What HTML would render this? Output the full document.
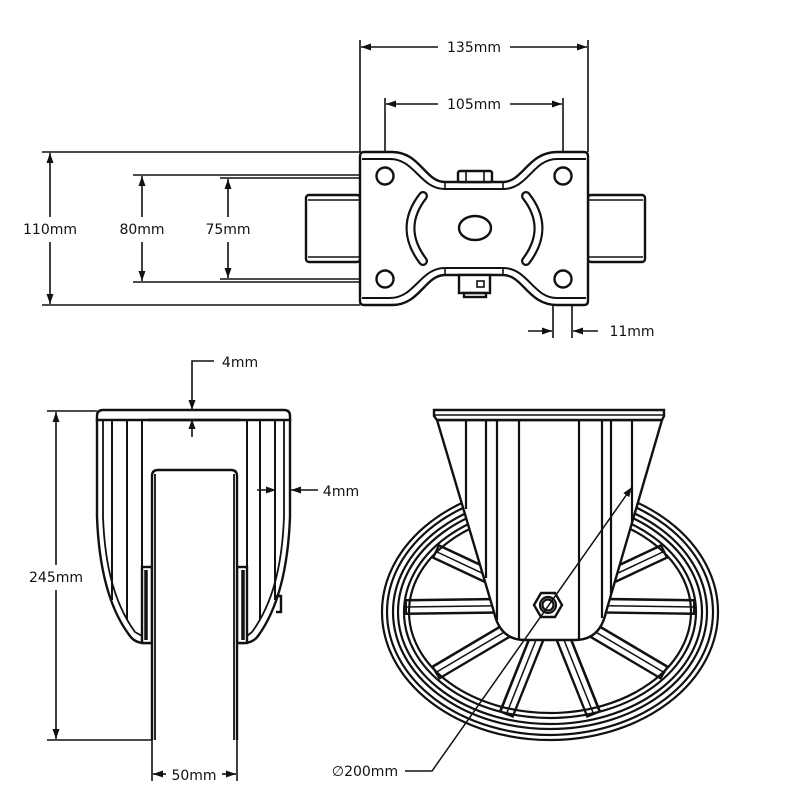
<!DOCTYPE html>
<html><head><meta charset="utf-8"><style>
html,body{margin:0;padding:0;background:#fff;}
svg{display:block;}
text{font-family:"DejaVu Sans","Liberation Sans",sans-serif;font-size:14px;fill:#111;}
</style></head><body>
<svg width="800" height="800" viewBox="0 0 800 800" xmlns="http://www.w3.org/2000/svg">
<defs>
<marker id="a" viewBox="0 0 10 10" refX="10" refY="5" markerWidth="10" markerHeight="10" markerUnits="userSpaceOnUse" orient="auto-start-reverse"><path d="M0,1.5 L10,5 L0,8.5 Z" fill="#111"/></marker>
</defs>
<g stroke="#111" fill="none" stroke-width="1.6">
<line x1="360" y1="40" x2="360" y2="152"/>
<line x1="588" y1="40" x2="588" y2="152"/>
<line x1="361" y1="47" x2="438" y2="47" marker-start="url(#a)"/>
<line x1="510" y1="47" x2="587" y2="47" marker-end="url(#a)"/>
<line x1="385" y1="98" x2="385" y2="168"/>
<line x1="563" y1="98" x2="563" y2="168"/>
<line x1="386" y1="104" x2="438" y2="104" marker-start="url(#a)"/>
<line x1="510" y1="104" x2="562" y2="104" marker-end="url(#a)"/>
<line x1="42" y1="152" x2="360" y2="152"/>
<line x1="42" y1="305" x2="360" y2="305"/>
<line x1="50" y1="153" x2="50" y2="217" marker-start="url(#a)"/>
<line x1="50" y1="242" x2="50" y2="304" marker-end="url(#a)"/>
<line x1="133" y1="175" x2="377" y2="175"/>
<line x1="133" y1="282" x2="377" y2="282"/>
<line x1="142" y1="176" x2="142" y2="217" marker-start="url(#a)"/>
<line x1="142" y1="242" x2="142" y2="281" marker-end="url(#a)"/>
<line x1="220" y1="178" x2="377" y2="178"/>
<line x1="220" y1="279" x2="377" y2="279"/>
<line x1="228" y1="179" x2="228" y2="217" marker-start="url(#a)"/>
<line x1="228" y1="242" x2="228" y2="278" marker-end="url(#a)"/>
<line x1="553" y1="285" x2="553" y2="338"/>
<line x1="572" y1="285" x2="572" y2="338"/>
<line x1="528" y1="331" x2="552" y2="331" marker-end="url(#a)"/>
<line x1="598" y1="331" x2="573" y2="331" marker-end="url(#a)"/>
</g>
<g stroke="#111" fill="none" stroke-width="2.4">
<rect x="306" y="195" width="54" height="67" rx="3"/>
<line x1="308" y1="200" x2="360" y2="200" stroke-width="1.6"/>
<line x1="308" y1="257" x2="360" y2="257" stroke-width="1.6"/>
<rect x="588" y="195" width="57" height="67" rx="3"/>
<line x1="588" y1="200" x2="643" y2="200" stroke-width="1.6"/>
<line x1="588" y1="257" x2="643" y2="257" stroke-width="1.6"/>
<path d="M360,156 Q360,152 364,152 L392,152 C420,152 425,182 445,182 L503,182 C523,182 528,152 557,152 L584,152 Q588,152 588,156 L588,301 Q588,305 584,305 L557,305 C528,305 523,275 503,275 L445,275 C425,275 420,305 392,305 L364,305 Q360,305 360,301 Z" fill="#fff"/>
<path d="M362,159 L390,159 C415,159 420,189 445,189 L503,189 C528,189 533,159 557,159 L586,159" stroke-width="2"/>
<path d="M362,298 L390,298 C415,298 420,268 445,268 L503,268 C528,268 533,298 557,298 L586,298" stroke-width="2"/>
<line x1="445" y1="182" x2="445" y2="189" stroke-width="1.6"/>
<line x1="503" y1="182" x2="503" y2="189" stroke-width="1.6"/>
<line x1="445" y1="268" x2="445" y2="275" stroke-width="1.6"/>
<line x1="503" y1="268" x2="503" y2="275" stroke-width="1.6"/>
<rect x="458" y="171" width="34" height="11" rx="2" fill="#fff"/>
<line x1="466" y1="171" x2="466" y2="182" stroke-width="1.6"/>
<line x1="484" y1="171" x2="484" y2="182" stroke-width="1.6"/>
<rect x="459" y="275" width="31" height="18" fill="#fff"/>
<rect x="464" y="293" width="22" height="4"/>
<rect x="477" y="281" width="7" height="6" stroke-width="1.6"/>
<circle cx="385" cy="176" r="8.5" fill="#fff"/>
<circle cx="563" cy="176" r="8.5" fill="#fff"/>
<circle cx="385" cy="279" r="8.5" fill="#fff"/>
<circle cx="563" cy="279" r="8.5" fill="#fff"/>
<ellipse cx="475" cy="228" rx="16" ry="12"/>
<path d="M423,196 Q398,228 423,261" stroke-width="10" stroke-linecap="round"/>
<path d="M423,196 Q398,228 423,261" stroke-width="5.5" stroke="#fff" stroke-linecap="round"/>
<path d="M526,196 Q551,228 526,261" stroke-width="10" stroke-linecap="round"/>
<path d="M526,196 Q551,228 526,261" stroke-width="5.5" stroke="#fff" stroke-linecap="round"/>
</g>

<g stroke="#111" fill="none" stroke-width="1.6">
<line x1="47" y1="411" x2="97" y2="411"/>
<line x1="47" y1="740" x2="152" y2="740"/>
<line x1="56" y1="412" x2="56" y2="565" marker-start="url(#a)"/>
<line x1="56" y1="590" x2="56" y2="739" marker-end="url(#a)"/>
<line x1="152" y1="740" x2="152" y2="781"/>
<line x1="237" y1="740" x2="237" y2="781"/>
<line x1="153" y1="774" x2="166" y2="774" marker-start="url(#a)"/>
<line x1="222" y1="774" x2="236" y2="774" marker-end="url(#a)"/>
<polyline points="214,361 192,361 192,410" marker-end="url(#a)"/>
<line x1="192" y1="437" x2="192" y2="419" marker-end="url(#a)"/>
<line x1="257" y1="490" x2="276" y2="490" marker-end="url(#a)"/>
<line x1="318" y1="490" x2="291" y2="490" marker-end="url(#a)"/>
</g>
<g stroke="#111" fill="none" stroke-width="2.4">
<path d="M97,418 L97,517 C99,570 110,610 130,636 Q135,643 145,643 L152,643 M290,418 L290,517 C288,570 277,610 258,636 Q253,643 243,643 L237,643"/>
<path d="M103,420 L103,517 C105,570 116,606 135,632 L142,636 M284,420 L284,517 C282,570 271,606 252,632 L247,636" stroke-width="1.8"/>
<path d="M97,416 Q97,410 103,410 L284,410 Q290,410 290,416 L290,420 L97,420 Z" fill="#fff"/>
<line x1="148" y1="420" x2="240" y2="420"/>
<line x1="112" y1="420" x2="112" y2="600" stroke-width="2"/>
<line x1="127" y1="420" x2="127" y2="620" stroke-width="2"/>
<line x1="142" y1="420" x2="142" y2="567" stroke-width="2"/>
<line x1="247" y1="420" x2="247" y2="567" stroke-width="2"/>
<line x1="260" y1="420" x2="260" y2="620" stroke-width="2"/>
<line x1="275" y1="420" x2="275" y2="600" stroke-width="2"/>
<rect x="142" y="567" width="10" height="76" fill="#fff"/>
<rect x="237" y="567" width="10" height="76" fill="#fff"/>
<line x1="146" y1="570" x2="146" y2="640" stroke-width="3.5"/>
<line x1="243" y1="570" x2="243" y2="640" stroke-width="3.5"/>
<path d="M276,596 L281,596 L281,612 L276,612"/>
<path d="M152,740 L152,476 Q152,470 158,470 L231,470 Q237,470 237,476 L237,740" fill="#fff"/>
<line x1="155" y1="474" x2="155" y2="740" stroke-width="1.8"/>
<line x1="234" y1="474" x2="234" y2="740" stroke-width="1.8"/>
</g>

<g stroke="#111" fill="none" stroke-width="2.2">
<ellipse cx="550" cy="612" rx="168" ry="128"/>
<ellipse cx="550" cy="612" rx="163" ry="123"/>
<ellipse cx="550" cy="612" rx="157" ry="117"/>
<ellipse cx="550" cy="612" rx="152" ry="112"/>
</g>
<g stroke-linecap="butt">
<g stroke="#111" stroke-width="16">
<line x1="550" y1="605" x2="695" y2="607"/>
<line x1="550" y1="605" x2="665" y2="673"/>
<line x1="550" y1="605" x2="594" y2="715"/>
<line x1="550" y1="605" x2="506" y2="715"/>
<line x1="550" y1="605" x2="435" y2="673"/>
<line x1="550" y1="605" x2="405" y2="607"/>
<line x1="550" y1="605" x2="435" y2="551"/>
<line x1="550" y1="605" x2="665" y2="551"/>
</g>
<g stroke="#fff" stroke-width="11">
<line x1="550" y1="605" x2="693" y2="607"/>
<line x1="550" y1="605" x2="663" y2="672"/>
<line x1="550" y1="605" x2="593" y2="713"/>
<line x1="550" y1="605" x2="507" y2="713"/>
<line x1="550" y1="605" x2="437" y2="672"/>
<line x1="550" y1="605" x2="407" y2="607"/>
<line x1="550" y1="605" x2="437" y2="552"/>
<line x1="550" y1="605" x2="663" y2="552"/>
</g>
<g stroke="#111" stroke-width="1.5">
<line x1="550" y1="605" x2="695" y2="607"/>
<line x1="550" y1="605" x2="665" y2="673"/>
<line x1="550" y1="605" x2="594" y2="715"/>
<line x1="550" y1="605" x2="506" y2="715"/>
<line x1="550" y1="605" x2="435" y2="673"/>
<line x1="550" y1="605" x2="405" y2="607"/>
<line x1="550" y1="605" x2="435" y2="551"/>
<line x1="550" y1="605" x2="665" y2="551"/>
</g>
</g>
<g stroke="#111" fill="none" stroke-width="2.2">
<ellipse cx="550" cy="612" rx="146" ry="106"/>
<ellipse cx="550" cy="612" rx="141" ry="101"/>
<path d="M437,420 L662,420 L606,612 Q600,640 575,640 L525,640 Q500,640 494,612 Z" fill="#fff" stroke-width="2.4"/>
<path d="M434,410 L664,410 L664,416 L662,420 L437,420 L434,416 Z" fill="#fff" stroke-width="2.4"/>
<line x1="434" y1="415" x2="664" y2="415" stroke-width="1.6"/>
<line x1="466" y1="420" x2="466" y2="509"/>
<line x1="486" y1="420" x2="486" y2="578"/>
<line x1="497" y1="420" x2="497" y2="620"/>
<line x1="519" y1="420" x2="519" y2="640"/>
<line x1="579" y1="420" x2="579" y2="640"/>
<line x1="602" y1="420" x2="602" y2="618"/>
<line x1="611" y1="420" x2="611" y2="595"/>
<line x1="632" y1="420" x2="632" y2="523"/>
<polygon points="562,605 555,617 541,617 534,605 541,593 555,593" fill="#fff" stroke-width="2.4"/>
<circle cx="548" cy="605" r="8"/>
<circle cx="548" cy="605" r="5.5"/>
<polyline points="405,771 432,771 632,487" stroke-width="1.5" marker-end="url(#a)"/>
</g>

<g stroke="none">
<rect x="440" y="38" width="68" height="18" fill="#fff"/>
<text x="474" y="52" text-anchor="middle">135mm</text>
<text x="474" y="109" text-anchor="middle">105mm</text>
<text x="50" y="234" text-anchor="middle">110mm</text>
<text x="142" y="234" text-anchor="middle">80mm</text>
<text x="228" y="234" text-anchor="middle">75mm</text>
<text x="632" y="336" text-anchor="middle">11mm</text>
<text x="240" y="367" text-anchor="middle">4mm</text>
<text x="341" y="496" text-anchor="middle">4mm</text>
<text x="56" y="582" text-anchor="middle">245mm</text>
<text x="194" y="780" text-anchor="middle">50mm</text>
<text x="365" y="776" text-anchor="middle">∅200mm</text>
</g>
</svg>
</body></html>
